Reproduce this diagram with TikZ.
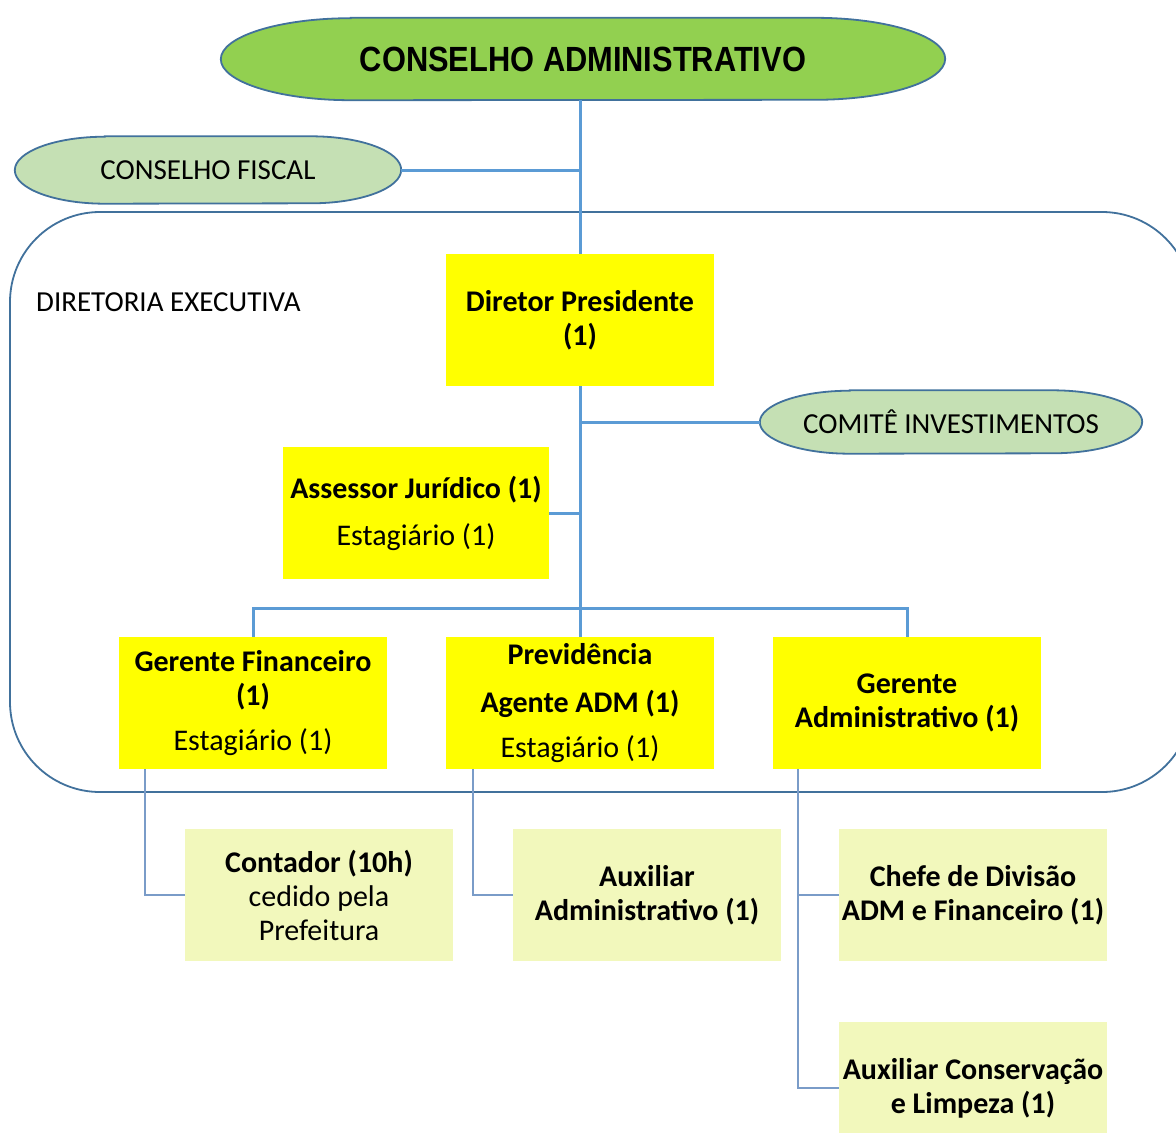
\documentclass[tikz,border=0pt]{standalone}
\usepackage{fontspec}
\setmainfont{Carlito}
\newfontfamily\titlefont[FakeStretch=0.88]{Liberation Sans}
\usetikzlibrary{backgrounds}
\definecolor{linkblue}{HTML}{5B9BD5}
\definecolor{subblue}{HTML}{7A9CC8}
\definecolor{ovalline}{HTML}{41719C}
\definecolor{greenoval}{HTML}{92D050}
\definecolor{paleoval}{HTML}{C5E0B4}
\definecolor{postyellow}{HTML}{FFFF00}
\definecolor{staffgreen}{HTML}{F2F8BC}
% node name, fill, x radius of the ends, y radius of the ends
\newcommand\ovalshape[4]{%
  \filldraw[fill=#2,draw=ovalline,line width=1.8pt]
    ([xshift=#3]#1.north west) -- ([xshift=-#3]#1.north east)
    arc[start angle=90,end angle=-90,x radius=#3,y radius=#4]
    -- ([xshift=#3]#1.south west)
    arc[start angle=270,end angle=90,x radius=#3,y radius=#4] -- cycle;}
\begin{document}
\begin{tikzpicture}[x=1pt,y=-1pt,
  conn/.style={draw=linkblue,line width=3pt},
  subconn/.style={draw=subblue,line width=2.2pt},
  oval/.style={rectangle,inner sep=0pt,font=\fontsize{29}{34}\selectfont},
  post/.style={rectangle,fill=postyellow,minimum width=268pt,minimum height=132pt,inner sep=0pt,align=center,font=\fontsize{30}{34}\selectfont\bfseries},
  staff/.style={post,fill=staffgreen}
]
\useasboundingbox (0,0) rectangle (1176,1133);
\clip (0,0) rectangle (1176,1133);
\node[oval,minimum width=724pt,minimum height=82pt,font=\titlefont\fontsize{35}{40}\selectfont\bfseries] (conselho) at (583,59) {CONSELHO ADMINISTRATIVO};
\node[oval,minimum width=386pt,minimum height=67pt] (fiscal) at (208,170) {CONSELHO FISCAL};
\draw[ovalline,line width=1.8pt,rounded corners=90pt] (10,212) rectangle (1192,792);
\node[anchor=base west,inner sep=0pt,font=\fontsize{29}{34}\selectfont] (diretoria) at (36,311) {DIRETORIA EXECUTIVA};
\node[post] (diretor) at (580,320) {Diretor Presidente\\(1)};
\node[oval,minimum width=382pt,minimum height=63pt] (comite) at (951,422) {COMITÊ INVESTIMENTOS};
\node[post,minimum width=266pt] (assessor) at (416,513) {Assessor Jurídico (1)\\[13pt]{\mdseries Estagiário (1)}};
\node[post] (financeiro) at (253,703) {Gerente Financeiro\\(1)\\[11pt]{\mdseries Estagiário (1)}};
\node[post] (previdencia) at (580,703) {Previdência\\[14pt]Agente ADM (1)\\[11pt]{\mdseries Estagiário (1)}};
\node[post] (administrativo) at (907,703) {Gerente\\Administrativo (1)};
\coordinate (hub) at (580,608);
\node[staff] (contador) at (319,895) {Contador (10h)\\{\mdseries cedido pela}\\{\mdseries Prefeitura}};
\node[staff] (auxiliar) at (647,895) {Auxiliar\\Administrativo (1)};
\node[staff] (chefe) at (973,895) {Chefe de Divisão\\ADM e Financeiro (1)};
\node[staff] (limpeza) at (973,1088) {Auxiliar Conservação\\e Limpeza (1)};
\begin{pgfonlayer}{background}
\ovalshape{conselho}{greenoval}{130pt}{41pt}
\ovalshape{fiscal}{paleoval}{90pt}{33.5pt}
\ovalshape{comite}{paleoval}{90pt}{31.5pt}
\end{pgfonlayer}
\draw[conn] (diretor.north |- conselho.south) -- (diretor.north);
\draw[conn] (fiscal.east) -- (fiscal.east -| diretor.north);
\draw[conn] (diretor.south) -- (hub);
\draw[conn] (comite.west) -- (comite.west -| diretor.south);
\draw[conn] (assessor.east) -- (assessor.east -| diretor.south);
\draw[conn] (financeiro.north) |- (hub) -| (administrativo.north);
\draw[conn] (hub) -- (previdencia.north);
\draw[subconn] ([xshift=26pt]financeiro.south west) |- (contador.west);
\draw[subconn] ([xshift=27pt]previdencia.south west) |- (auxiliar.west);
\draw[subconn] ([xshift=25pt]administrativo.south west) |- (chefe.west);
\draw[subconn] ([xshift=25pt]administrativo.south west) |- (limpeza.west);
\end{tikzpicture}
\end{document}
